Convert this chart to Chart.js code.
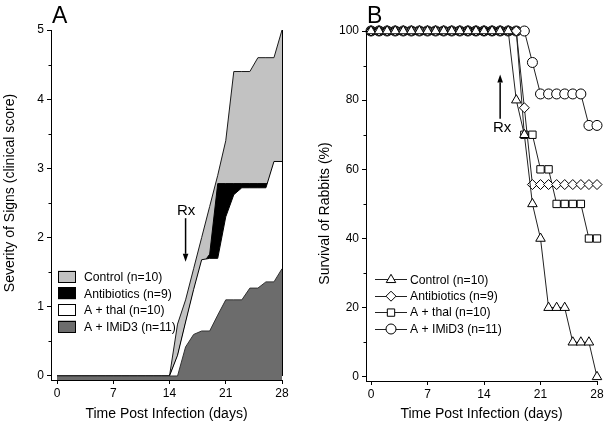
<!DOCTYPE html>
<html><head><meta charset="utf-8">
<script src="https://cdn.jsdelivr.net/npm/chart.js@4"></script>
<style>
html,body{margin:0;padding:0;background:#fff;}
#wrap{position:relative;width:610px;height:427px;background:#fff;}
.pane{position:absolute;top:0;width:305px;height:427px;}
canvas{display:block;}
</style></head>
<body><div id="wrap">
<div class="pane" style="left:0"><canvas id="cA" width="305" height="427"></canvas></div>
<div class="pane" style="left:305px"><canvas id="cB" width="305" height="427"></canvas></div>
</div>
<script>
// ---------- data ----------
const days = [0,1,2,3,4,5,6,7,8,9,10,11,12,13,14,15,16,17,18,19,20,21,22,23,24,25,26,27,28];
const dayTicks = [0,7,14,21,28];
const severityTicks = [0,1,2,3,4,5];
const severityMinorTicks = [0.5,1.5,2.5,3.5,4.5];
const survivalTicks = [0,20,40,60,80,100];
const survivalMinorTicks = [10,30,50,70,90];
const seriesNames = ['Control (n=10)','Antibiotics (n=9)','A + thal (n=10)','A + IMiD3 (n=11)'];
const xTitle = 'Time Post Infection (days)';
const severityTitle = 'Severity of Signs (clinical score)';
const survivalTitle = 'Survival of Rabbits (%)';

// Panel A: mean clinical score
const severityControl     = [0,0,0,0,0,0,0,0,0,0,0,0,0,0,0, 0.75,1.1,1.55,2.0,2.45,2.9,3.4,4.4,4.4,4.4,4.6,4.6,4.6,5.0];
const severityAntibiotics = [0,0,0,0,0,0,0,0,0,0,0,0,0,0,0, 0.28,0.76,1.22,1.6,1.76,2.78,2.78,2.78,2.78,2.78,2.78,2.78,2.78,2.78];
const severityThal        = [0,0,0,0,0,0,0,0,0,0,0,0,0,0,0, 0.3,0.78,1.25,1.68,1.7,1.7,2.3,2.62,2.72,2.72,2.72,2.72,3.1,3.1];
const severityImid        = [0,0,0,0,0,0,0,0,0,0,0,0,0,0,0,0, 0.42,0.6,0.65,0.65,0.88,1.1,1.1,1.1,1.27,1.27,1.36,1.36,1.55];

// Panel B: survival (%)
const survivalControl     = [100,100,100,100,100,100,100,100,100,100,100,100,100,100,100,100,100,100, 80,70,50,40,20,20,20,10,10,10,0];
const survivalAntibiotics = [100,100,100,100,100,100,100,100,100,100,100,100,100,100,100,100,100,100,100, 77.8,55.6,55.6,55.6,55.6,55.6,55.6,55.6,55.6,55.6];
const survivalThal        = [100,100,100,100,100,100,100,100,100,100,100,100,100,100,100,100,100,100,100, 70,70,60,60,50,50,50,50,40,40];
const survivalImid        = [100,100,100,100,100,100,100,100,100,100,100,100,100,100,100,100,100,100,100,100, 90.9,81.8,81.8,81.8,81.8,81.8,81.8,72.7,72.7];

// ---------- styling ----------
const FONT = '"Liberation Sans", Arial, Helvetica, sans-serif';
const areaFill   = ['#c2c2c2','#000000','#ffffff','#6c6c6c'];
const areaBorder = ['#1a1a1a','#000000','#000000','#333333'];
const markerStyles = ['triangle','rectRot','rect','circle'];
const markerRadius = [5.5,5,5.2,5];

const rxA = {day:16, from:2.28, to:1.65, label:2.38};
const rxB = {day:16, from:74.6, to:87.4, label:72.1};

function toPoints(vals){ return days.map((d,i)=>({x:d,y:vals[i]})); }

function gridOpts(){
  return {display:true, drawOnChartArea:false, drawTicks:true, tickLength:4, color:'#000', tickColor:'#000', tickWidth:1, lineWidth:1};
}
function xScale(min,max,height){
  return {type:'linear', min, max,
    afterBuildTicks: s => { s.ticks = dayTicks.map(v=>({value:v})); },
    afterFit: s => { s.height = height; },
    grid: gridOpts(),
    border:{display:true, color:'#000', width:1},
    ticks:{color:'#000', font:{family:FONT,size:12}, padding:2, maxRotation:0, autoSkip:false},
    title:{display:true, text:xTitle, color:'#000', font:{family:FONT,size:14}, padding:{top:0,bottom:4}}
  };
}
function yScale(min,max,tickVals,width){
  return {type:'linear', min, max,
    afterBuildTicks: s => { s.ticks = tickVals.map(v=>({value:v})); },
    afterFit: s => { s.width = width; },
    grid: gridOpts(),
    border:{display:true, color:'#000', width:1},
    ticks:{color:'#000', font:{family:FONT,size:12}, padding:3, autoSkip:false}
  };
}
function drawMinorTicks(chart, vals){
  const {ctx, scales:{y}} = chart;
  ctx.save(); ctx.strokeStyle='#000'; ctx.lineWidth=1;
  vals.forEach(v=>{
    const py = Math.round(y.getPixelForValue(v))+0.5;
    ctx.beginPath(); ctx.moveTo(y.right-2.5, py); ctx.lineTo(y.right, py); ctx.stroke();
  });
  ctx.restore();
}

function drawVTitle(ctx, text, x, y){
  ctx.save();
  ctx.translate(x,y); ctx.rotate(-Math.PI/2);
  ctx.font = '14px '+FONT; ctx.fillStyle='#000';
  ctx.textAlign='center'; ctx.textBaseline='alphabetic';
  ctx.fillText(text,0,0);
  ctx.restore();
}
function drawLetter(ctx, text, x, y){
  ctx.save(); ctx.font='23px '+FONT; ctx.fillStyle='#000';
  ctx.textAlign='left'; ctx.textBaseline='alphabetic'; ctx.fillText(text,x,y); ctx.restore();
}
function drawArrow(ctx, x, y1, y2){
  const dir = y2>y1 ? 1 : -1, head=8, hw=2.8;
  ctx.save(); ctx.strokeStyle='#000'; ctx.fillStyle='#000'; ctx.lineWidth=1.5;
  ctx.beginPath(); ctx.moveTo(x,y1); ctx.lineTo(x,y2-dir*head); ctx.stroke();
  ctx.beginPath(); ctx.moveTo(x,y2); ctx.lineTo(x-hw,y2-dir*head); ctx.lineTo(x+hw,y2-dir*head); ctx.closePath(); ctx.fill();
  ctx.restore();
}
function drawRxText(ctx,x,y){
  ctx.save(); ctx.font='15px '+FONT; ctx.fillStyle='#000'; ctx.textAlign='center'; ctx.textBaseline='middle';
  ctx.fillText('Rx',x,y); ctx.restore();
}
function drawMarker(ctx, style, x, y, r){
  ctx.beginPath();
  if(style==='circle'){ ctx.arc(x,y,r,0,Math.PI*2); }
  else if(style==='triangle'){
    let a=0; ctx.moveTo(x+Math.sin(a)*r, y-Math.cos(a)*r);
    a+=2*Math.PI/3; ctx.lineTo(x+Math.sin(a)*r, y-Math.cos(a)*r);
    a+=2*Math.PI/3; ctx.lineTo(x+Math.sin(a)*r, y-Math.cos(a)*r); ctx.closePath();
  } else if(style==='rect'){ const s=r*Math.SQRT1_2; ctx.rect(x-s,y-s,2*s,2*s); }
  else { ctx.moveTo(x-r,y); ctx.lineTo(x,y-r); ctx.lineTo(x+r,y); ctx.lineTo(x,y+r); ctx.closePath(); }
  ctx.fillStyle='#fff'; ctx.fill(); ctx.strokeStyle='#000'; ctx.lineWidth=1; ctx.stroke();
}

// ---------- Panel A ----------
const legendA = {boxX:58, firstY:276.5, gap:16.7, boxW:18, boxH:12, textX:84};
const panelAPlugin = {
  id:'panelA',
  afterDatasetsDraw(chart){
    const {ctx, scales:{x,y}} = chart;
    const i = days.length-1;
    const px = Math.round(x.getPixelForValue(days[i]))+0.5;
    ctx.save(); ctx.strokeStyle='#000'; ctx.lineWidth=1;
    ctx.beginPath(); ctx.moveTo(px, y.getPixelForValue(severityControl[i])); ctx.lineTo(px, y.getPixelForValue(0)); ctx.stroke();
    ctx.restore();
  },
  afterDraw(chart){
    const {ctx, scales:{x,y}} = chart;
    drawMinorTicks(chart, severityMinorTicks);
    drawLetter(ctx,'A',52,23);
    drawVTitle(ctx, severityTitle, 14, 193);
    ctx.save();
    seriesNames.forEach((name,k)=>{
      const cy = legendA.firstY + k*legendA.gap;
      ctx.fillStyle = areaFill[k];
      ctx.fillRect(legendA.boxX, cy-legendA.boxH/2, legendA.boxW, legendA.boxH);
      ctx.strokeStyle='#000'; ctx.lineWidth=1;
      ctx.strokeRect(legendA.boxX+0.5, Math.round(cy-legendA.boxH/2)+0.5, legendA.boxW-1, legendA.boxH-1);
      ctx.fillStyle='#000'; ctx.font='12.2px '+FONT; ctx.textAlign='left'; ctx.textBaseline='middle';
      ctx.fillText(name, legendA.textX, cy+1);
    });
    ctx.restore();
    const ax = x.getPixelForValue(rxA.day);
    drawRxText(ctx, ax+0.5, y.getPixelForValue(rxA.label));
    drawArrow(ctx, ax, y.getPixelForValue(rxA.from), y.getPixelForValue(rxA.to));
  }
};

const severitySeries = [severityControl, severityAntibiotics, severityThal, severityImid];
new Chart(document.getElementById('cA'), {
  type:'line',
  data:{ datasets: severitySeries.map((vals,k)=>({
    label: seriesNames[k], data: toPoints(vals), fill:'start',
    backgroundColor: areaFill[k], borderColor: areaBorder[k], borderWidth:1,
    pointRadius:0, tension:0, order: 4-k, clip:false
  }))},
  options:{
    responsive:false, animation:false, devicePixelRatio:1, events:[],
    layout:{padding:{left:0,right:23,top:30,bottom:0}},
    plugins:{legend:{display:false}, tooltip:{enabled:false}},
    scales:{ x: xScale(-0.75,28,47), y: yScale(-0.058,5,severityTicks,51) }
  },
  plugins:[panelAPlugin]
});

// ---------- Panel B ----------
const legendB = {lineX1:70, lineX2:102, firstY:279.3, gap:16.4, textX:105};
const panelBPlugin = {
  id:'panelB',
  afterDraw(chart){
    const {ctx, scales:{x,y}} = chart;
    drawMinorTicks(chart, survivalMinorTicks);
    drawLetter(ctx,'B',62,23);
    drawVTitle(ctx, survivalTitle, 23.5, 213.5);
    ctx.save();
    seriesNames.forEach((name,k)=>{
      const cy = legendB.firstY + k*legendB.gap;
      ctx.strokeStyle='#222'; ctx.lineWidth=1;
      ctx.beginPath(); ctx.moveTo(legendB.lineX1, Math.round(cy)+0.5); ctx.lineTo(legendB.lineX2, Math.round(cy)+0.5); ctx.stroke();
      drawMarker(ctx, markerStyles[k], (legendB.lineX1+legendB.lineX2)/2, cy+0.5, markerRadius[k]);
      ctx.fillStyle='#000'; ctx.font='12.2px '+FONT; ctx.textAlign='left'; ctx.textBaseline='middle';
      ctx.fillText(name, legendB.textX, cy+1);
    });
    ctx.restore();
    const ax = x.getPixelForValue(rxB.day);
    drawArrow(ctx, ax, y.getPixelForValue(rxB.from), y.getPixelForValue(rxB.to));
    drawRxText(ctx, ax+2, y.getPixelForValue(rxB.label));
  }
};

const survivalSeries = [survivalControl, survivalAntibiotics, survivalThal, survivalImid];
new Chart(document.getElementById('cB'), {
  type:'line',
  data:{ datasets: survivalSeries.map((vals,k)=>({
    label: seriesNames[k], data: toPoints(vals), fill:false,
    borderColor:'#222', borderWidth:1, tension:0,
    pointStyle: markerStyles[k], pointRadius: markerRadius[k],
    pointBackgroundColor:'#fff', pointBorderColor:'#000', pointBorderWidth:1,
    order: k+1, clip:false
  }))},
  options:{
    responsive:false, animation:false, devicePixelRatio:1, events:[],
    layout:{padding:{left:0,right:13,top:31,bottom:0}},
    plugins:{legend:{display:false}, tooltip:{enabled:false}},
    scales:{ x: xScale(-0.62,28,46), y: yScale(-1.2,100,survivalTicks,61) }
  },
  plugins:[panelBPlugin]
});
</script>
</body></html>
